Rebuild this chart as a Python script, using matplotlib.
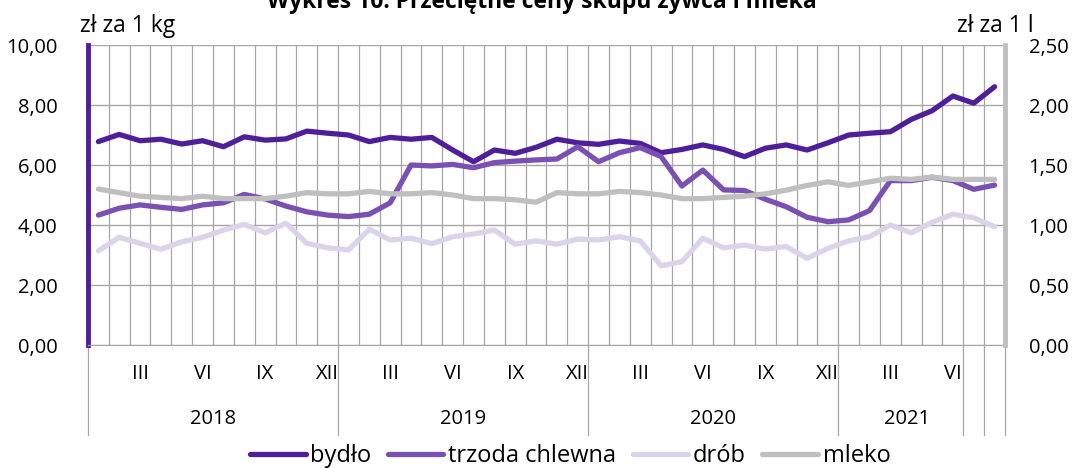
import numpy as np
import matplotlib
matplotlib.use("Agg")
import matplotlib.pyplot as plt
import matplotlib.transforms as mtransforms

plt.rcParams['font.family'] = ['Open Sans', 'DejaVu Sans']

# dane: I 2018 - VIII 2021
bydlo = [6.78, 7.02, 6.81, 6.86, 6.70, 6.81, 6.61, 6.94, 6.83, 6.87, 7.13, 7.06,
         7.00, 6.78, 6.92, 6.86, 6.92, 6.50, 6.11, 6.50, 6.39, 6.59, 6.86, 6.74,
         6.69, 6.80, 6.72, 6.41, 6.52, 6.67, 6.52, 6.28, 6.56, 6.67, 6.50, 6.74,
         7.00, 7.06, 7.11, 7.52, 7.81, 8.30, 8.06, 8.61]
trzoda = [4.33, 4.56, 4.67, 4.59, 4.52, 4.67, 4.74, 5.02, 4.87, 4.63, 4.44, 4.33,
          4.28, 4.36, 4.74, 6.00, 5.97, 6.02, 5.91, 6.08, 6.13, 6.17, 6.20, 6.61,
          6.11, 6.41, 6.58, 6.28, 5.30, 5.83, 5.17, 5.15, 4.86, 4.61, 4.26, 4.11,
          4.17, 4.48, 5.48, 5.48, 5.59, 5.48, 5.19, 5.33]
drob = [3.14, 3.59, 3.39, 3.19, 3.44, 3.59, 3.83, 4.02, 3.74, 4.06, 3.39, 3.24,
        3.17, 3.86, 3.50, 3.56, 3.38, 3.61, 3.70, 3.83, 3.36, 3.47, 3.36, 3.53,
        3.50, 3.61, 3.47, 2.64, 2.78, 3.56, 3.24, 3.33, 3.20, 3.28, 2.89, 3.22,
        3.47, 3.61, 4.00, 3.74, 4.09, 4.36, 4.24, 3.94]
mleko = [1.30, 1.27, 1.24, 1.23, 1.22, 1.24, 1.22, 1.22, 1.22, 1.24, 1.27, 1.26,
         1.26, 1.28, 1.26, 1.26, 1.27, 1.25, 1.22, 1.22, 1.21, 1.19, 1.27, 1.26,
         1.26, 1.28, 1.27, 1.25, 1.22, 1.22, 1.23, 1.24, 1.26, 1.29, 1.33, 1.36,
         1.33, 1.36, 1.39, 1.38, 1.40, 1.38, 1.38, 1.38]

month_pos = [2, 5, 8, 11, 14, 17, 20, 23, 26, 29, 32, 35, 38, 41]
month_lab = ['III', 'VI', 'IX', 'XII'] * 3 + ['III', 'VI']
years = ['2018', '2019', '2020', '2021']
year_pos = [5.5, 17.5, 29.5, 38.8]
sep_pos = [-0.5, 11.5, 23.5, 35.5, 41.5, 42.5, 43.5]

c_bydlo = '#4f1f9a'
c_trzoda = '#7b50b3'
c_drob = '#dbd3ea'
c_mleko = '#bfbfbf'
grid_c = '#a6a6a6'

x = np.arange(len(bydlo))

fig = plt.figure(figsize=(10.78, 4.68), dpi=100)
ax = fig.add_axes([0.0816, 0.2628, 0.8507, 0.641])
ax2 = ax.twinx()

lw = 3.8
ax.plot(x, bydlo, color=c_bydlo, lw=lw, label='bydło', zorder=3, solid_capstyle='round')
ax.plot(x, trzoda, color=c_trzoda, lw=lw, label='trzoda chlewna', zorder=3, solid_capstyle='round')
ax.plot(x, drob, color=c_drob, lw=lw, label='drób', zorder=2, solid_capstyle='round')
ax2.plot(x, mleko, color=c_mleko, lw=lw, label='mleko', solid_capstyle='round')

ax.set_xlim(-0.5, len(x) - 0.5)
ax.set_ylim(0, 10)
ax2.set_ylim(0, 2.5)
ax.set_yticks(np.arange(0, 10.1, 2))
ax.set_yticklabels([f'{v:.2f}'.replace('.', ',') for v in np.arange(0, 10.1, 2)])
ax2.set_yticks(np.arange(0, 2.51, 0.5))
ax2.set_yticklabels([f'{v:.2f}'.replace('.', ',') for v in np.arange(0, 2.51, 0.5)])
ax.tick_params(axis='y', length=0, labelsize=14.5, pad=22)
ax2.tick_params(axis='y', length=0, labelsize=14.5, pad=17)

ax.set_xticks(month_pos)
ax.set_xticklabels(month_lab)
ax.set_xticks(np.arange(0.5, len(x) - 1, 1), minor=True)
ax.tick_params(axis='x', which='both', length=0, labelsize=14.5, pad=14)

ax.grid(axis='y', color=grid_c, lw=1.0, zorder=0)
ax.grid(axis='x', which='minor', color=grid_c, lw=0.9, zorder=0)
ax.set_axisbelow(True)

for s in ['top']:
    ax.spines[s].set_visible(False)
    ax2.spines[s].set_visible(False)
ax.spines['left'].set_color(c_bydlo)
ax.spines['left'].set_linewidth(3.5)
ax2.spines['left'].set_visible(False)
ax2.spines['right'].set_color(c_mleko)
ax2.spines['right'].set_linewidth(3.5)
ax.spines['right'].set_visible(False)
ax.spines['bottom'].set_color(grid_c)
ax2.spines['bottom'].set_visible(False)

trans = mtransforms.blended_transform_factory(ax.transData, ax.transAxes)
for p in sep_pos:
    ax.plot([p, p], [0, -0.30], transform=trans, color=grid_c, lw=0.9, clip_on=False)
for yl, p in zip(years, year_pos):
    ax.text(p, -0.248, yl, transform=trans, ha='center', va='center', fontsize=14.5)

fig.text(0.074, 0.945, 'zł za 1 kg', fontsize=16.5, ha='left', va='center')
fig.text(0.959, 0.945, 'zł za 1 l', fontsize=16.5, ha='right', va='center')
fig.text(0.503, 0.983, 'Wykres 10. Przeciętne ceny skupu żywca i mleka',
         fontsize=16.5, fontweight='bold', ha='center', va='baseline')

h1, l1 = ax.get_legend_handles_labels()
h2, l2 = ax2.get_legend_handles_labels()
fig.legend(h1 + h2, l1 + l2, loc='lower center', bbox_to_anchor=(0.529, -0.045), ncol=4,
           frameon=False, fontsize=17, handlelength=2.35, handletextpad=0.2,
           columnspacing=0.7)

fig.savefig('out.png', dpi=100)
